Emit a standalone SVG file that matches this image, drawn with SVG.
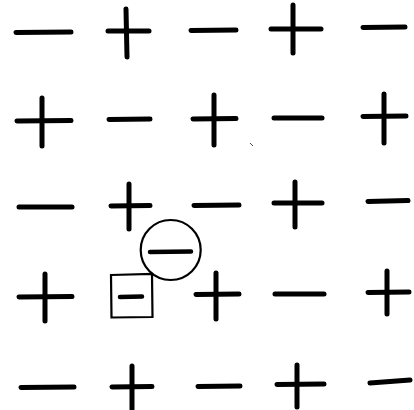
<svg xmlns="http://www.w3.org/2000/svg" width="414" height="410" viewBox="0 0 414 410">
<style>
.s{stroke:#000;stroke-width:5;stroke-linecap:round;fill:none}
.t{stroke:#000;stroke-width:2.2;fill:none}
.m{stroke:#000;stroke-width:4.5;stroke-linecap:round;fill:none}
</style>
<rect width="414" height="410" fill="#fff"/>
<g id="r1">
<g id="r1c1"><line class="s" x1="16" y1="32.5" x2="71" y2="32"/></g>
<g id="r1c2"><line class="s" x1="108" y1="31" x2="149" y2="31"/><line class="s" x1="126" y1="9" x2="127" y2="57"/></g>
<g id="r1c3"><line class="s" x1="191" y1="30.5" x2="236" y2="30"/></g>
<g id="r1c4"><line class="s" x1="271" y1="29" x2="321" y2="29"/><line class="s" x1="293" y1="5" x2="293" y2="53"/></g>
<g id="r1c5"><line class="s" x1="363" y1="27.5" x2="405" y2="27"/></g>
</g>
<g id="r2">
<g id="r2c1"><line class="s" x1="17" y1="121" x2="71" y2="120.5"/><line class="s" x1="42" y1="98" x2="42" y2="146"/></g>
<g id="r2c2"><line class="s" x1="109" y1="119.5" x2="150" y2="119"/></g>
<g id="r2c3"><line class="s" x1="193" y1="119" x2="236" y2="118.5"/><line class="s" x1="214" y1="95" x2="214" y2="145"/></g>
<g id="r2c4"><line class="s" x1="274" y1="118" x2="322" y2="118"/></g>
<g id="r2c5"><line class="s" x1="363" y1="116.5" x2="406" y2="116"/><line class="s" x1="384" y1="94" x2="384" y2="143"/></g>
<line x1="250" y1="143" x2="253" y2="146" stroke="#444" stroke-width="1"/>
</g>
<g id="r3">
<g id="r3c1"><line class="s" x1="19" y1="207" x2="72" y2="207"/></g>
<g id="r3c2"><line class="s" x1="111" y1="206" x2="150" y2="205.5"/><line class="s" x1="129" y1="184" x2="129" y2="229"/></g>
<g id="r3c3"><line class="s" x1="194" y1="205.5" x2="239" y2="205"/></g>
<g id="r3c4"><line class="s" x1="274" y1="203" x2="322" y2="203"/><line class="s" x1="295" y1="182" x2="295" y2="227"/></g>
<g id="r3c5"><line class="s" x1="368" y1="201.5" x2="408" y2="200.5"/></g>
</g>
<g id="circled">
<circle class="t" cx="170.7" cy="250" r="30"/>
<line class="m" x1="150" y1="252" x2="191" y2="251.5"/>
</g>
<g id="boxed">
<path class="t" d="M111 275 L152 274 L152.5 317 L111.5 317.5 Z"/>
<line class="m" x1="120" y1="297" x2="142" y2="296.5"/>
</g>
<g id="r4">
<g id="r4c1"><line class="s" x1="19" y1="297" x2="72" y2="296.5"/><line class="s" x1="45" y1="274" x2="45" y2="321"/></g>
<g id="r4c3"><line class="s" x1="196" y1="294.5" x2="239" y2="294"/><line class="s" x1="216" y1="273" x2="216" y2="319"/></g>
<g id="r4c4"><line class="s" x1="275" y1="294" x2="324" y2="294"/></g>
<g id="r4c5"><line class="s" x1="368" y1="292.5" x2="409" y2="292"/><line class="s" x1="387" y1="271" x2="387" y2="314"/></g>
</g>
<g id="r5">
<g id="r5c1"><line class="s" x1="21" y1="387.5" x2="74" y2="387"/></g>
<g id="r5c2"><line class="s" x1="112" y1="387" x2="152" y2="386.5"/><line class="s" x1="132" y1="366" x2="132" y2="409"/></g>
<g id="r5c3"><line class="s" x1="198" y1="386.5" x2="240" y2="386"/></g>
<g id="r5c4"><line class="s" x1="277" y1="384.5" x2="324" y2="384"/><line class="s" x1="297" y1="365" x2="297" y2="407"/></g>
<g id="r5c5"><line class="s" x1="370" y1="383" x2="410" y2="380"/></g>
</g>
</svg>
